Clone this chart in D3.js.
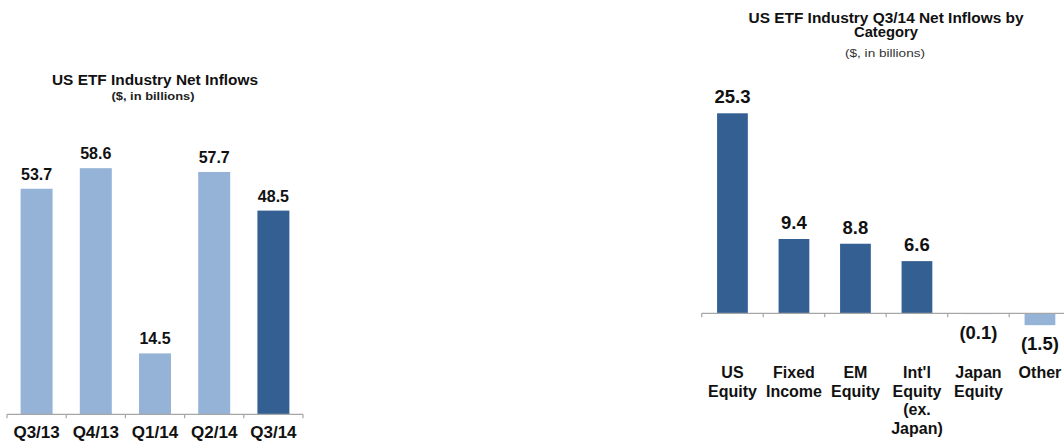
<!DOCTYPE html>
<html>
<head>
<meta charset="utf-8">
<script src="https://cdn.jsdelivr.net/npm/d3@7"></script>
<style>
  html, body { margin: 0; padding: 0; background: #ffffff; }
  svg { display: block; font-family: "Liberation Sans", Arial, sans-serif; }
</style>
</head>
<body>
<svg id="chart" width="1064" height="443"></svg>
<script>
// ---- Data ----
const quarters = ["Q3/13", "Q4/13", "Q1/14", "Q2/14", "Q3/14"];
const quarterInflows = [53.7, 58.6, 14.5, 57.7, 48.5];
const categories = ["US\nEquity", "Fixed\nIncome", "EM\nEquity", "Int'l\nEquity\n(ex.\nJapan)", "Japan\nEquity", "Other"];
const categoryInflows = [25.3, 9.4, 8.8, 6.6, -0.1, -1.5];
const leftTitle = ["US ETF Industry Net Inflows"];
const leftSubtitle = "($, in billions)";
const rightTitle = ["US ETF Industry Q3/14 Net Inflows by", "Category"];
const rightSubtitle = "($, in billions)";

const LIGHT = "#95b3d7";
const DARK = "#335f93";
const AXIS = "#a6a6a6";

const svg = d3.select("#chart");

function fmt(v) {
  return v < 0 ? "(" + d3.format(".1f")(-v) + ")" : d3.format(".1f")(v);
}

function drawAxis(g, x, y0) {
  const r = x.range();
  const step = x.step();
  const off = (step - x.bandwidth()) / 2;
  g.append("line")
    .attr("x1", r[0]).attr("x2", r[1])
    .attr("y1", y0).attr("y2", y0)
    .attr("stroke", AXIS).attr("stroke-width", 1.2);
  const ticks = x.domain().map(d => x(d) - off).concat([x(x.domain()[x.domain().length - 1]) + x.bandwidth() + off]);
  g.selectAll("line.tick").data(ticks).enter().append("line")
    .attr("class", "tick")
    .attr("x1", d => d).attr("x2", d => d)
    .attr("y1", y0).attr("y2", y0 + 4)
    .attr("stroke", AXIS).attr("stroke-width", 1.2);
}

// ---- Left chart ----
{
  const g = svg.append("g");
  const x = d3.scaleBand().domain(quarters).range([7, 303]).paddingInner(0.46).paddingOuter(0.23);
  const y = d3.scaleLinear().domain([0, 60]).range([414.3, 162.3]);

  g.selectAll("rect").data(quarters).enter().append("rect")
    .attr("x", d => x(d))
    .attr("width", x.bandwidth())
    .attr("y", (d, i) => y(quarterInflows[i]))
    .attr("height", (d, i) => y(0) - y(quarterInflows[i]))
    .attr("fill", (d, i) => i === quarters.length - 1 ? DARK : LIGHT);

  drawAxis(g, x, y(0));

  g.selectAll("text.val").data(quarters).enter().append("text")
    .attr("class", "val")
    .attr("x", d => x(d) + x.bandwidth() / 2)
    .attr("y", (d, i) => y(quarterInflows[i]) - 9)
    .attr("text-anchor", "middle")
    .attr("font-size", 16).attr("font-weight", "bold").attr("fill", "#111")
    .text((d, i) => fmt(quarterInflows[i]));

  g.selectAll("text.cat").data(quarters).enter().append("text")
    .attr("class", "cat")
    .attr("x", d => x(d) + x.bandwidth() / 2)
    .attr("y", 438)
    .attr("text-anchor", "middle")
    .attr("font-size", 17).attr("font-weight", "bold").attr("fill", "#111")
    .text(d => d);

  g.append("text").attr("x", 155).attr("y", 85)
    .attr("text-anchor", "middle").attr("font-size", 14).attr("font-weight", "bold").attr("fill", "#111")
    .attr("textLength", 206).attr("lengthAdjust", "spacingAndGlyphs")
    .text(leftTitle[0]);
  g.append("text").attr("x", 153).attr("y", 99.5)
    .attr("text-anchor", "middle").attr("font-size", 11.5).attr("font-weight", "bold").attr("fill", "#222")
    .attr("textLength", 83).attr("lengthAdjust", "spacingAndGlyphs")
    .text(leftSubtitle);
}

// ---- Right chart ----
{
  const g = svg.append("g");
  const x = d3.scaleBand().domain(categories).range([701.7, 1070.7]).paddingInner(0.5).paddingOuter(0.25);
  const y = d3.scaleLinear().domain([0, 25.3]).range([313.3, 113.3]);

  g.selectAll("rect").data(categories).enter().append("rect")
    .attr("x", d => x(d))
    .attr("width", x.bandwidth())
    .attr("y", (d, i) => y(Math.max(0, categoryInflows[i])))
    .attr("height", (d, i) => Math.abs(y(categoryInflows[i]) - y(0)))
    .attr("fill", (d, i) => categoryInflows[i] < 0 ? LIGHT : DARK);

  drawAxis(g, x, y(0));

  g.selectAll("text.val").data(categories).enter().append("text")
    .attr("class", "val")
    .attr("x", d => x(d) + x.bandwidth() / 2)
    .attr("y", (d, i) => categoryInflows[i] >= 0 ? y(categoryInflows[i]) - 10 : y(categoryInflows[i]) + 25)
    .attr("text-anchor", "middle")
    .attr("font-size", 18.5).attr("font-weight", "bold").attr("fill", "#111")
    .text((d, i) => fmt(categoryInflows[i]));

  const cats = g.selectAll("text.cat").data(categories).enter().append("text")
    .attr("class", "cat")
    .attr("text-anchor", "middle")
    .attr("font-size", 16).attr("font-weight", "bold").attr("fill", "#111");
  cats.each(function(d) {
    const t = d3.select(this);
    const cx = x(d) + x.bandwidth() / 2;
    d.split("\n").forEach((line, k) => {
      t.append("tspan").attr("x", cx).attr("y", 378 + k * 18.6).text(line);
    });
  });

  const titleWidths = [275, 64];
  rightTitle.forEach((line, k) => {
    g.append("text").attr("x", 886).attr("y", 23 + k * 14)
      .attr("text-anchor", "middle").attr("font-size", 14).attr("font-weight", "bold").attr("fill", "#111")
      .attr("textLength", titleWidths[k]).attr("lengthAdjust", "spacingAndGlyphs")
      .text(line);
  });
  g.append("text").attr("x", 885).attr("y", 57)
    .attr("text-anchor", "middle").attr("font-size", 11.5).attr("fill", "#333")
    .attr("textLength", 80).attr("lengthAdjust", "spacingAndGlyphs")
    .text(rightSubtitle);
}
</script>
</body>
</html>
